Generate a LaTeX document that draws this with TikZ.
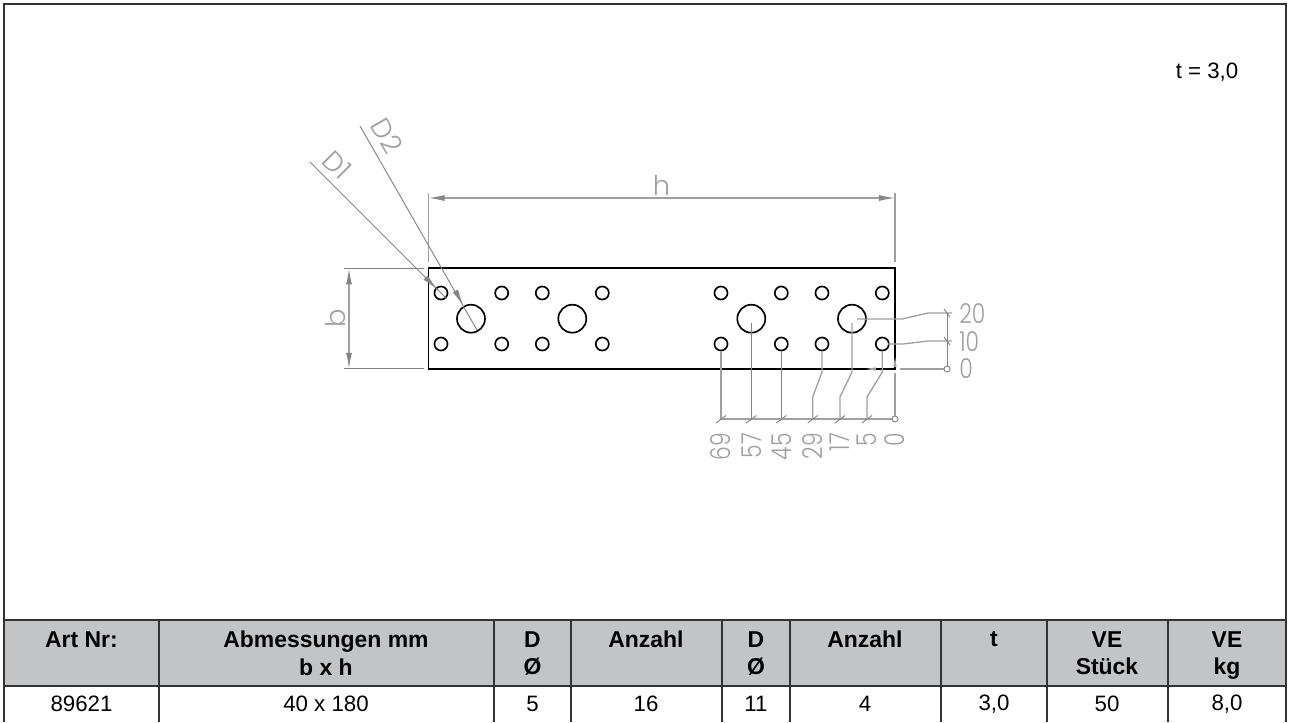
\documentclass[tikz,border=0pt]{standalone}
\usepackage{fontspec}
\setmainfont{Liberation Sans}
\newfontfamily\dimfont[FakeStretch=0.8]{Poppins Light}
\newfontfamily\dimletter[FakeStretch=1.0]{Poppins Light}
\usetikzlibrary{arrows.meta}
\definecolor{dimgray}{HTML}{A0A0A0}
\definecolor{leadgray}{HTML}{858585}
\definecolor{headgray}{HTML}{C3C4C6}
\definecolor{framec}{HTML}{333333}
\tikzset{
  x=0.75pt,y=-0.75pt,
  partline/.style={draw=black,line width=1.25pt},
  hole/.style={partline},
  dimline/.style={draw=dimgray,line width=1pt},
  thinlead/.style={draw=leadgray,line width=0.7pt},
  dimlabel/.style={text=dimgray,font=\dimfont\fontsize{20.5}{20.5}\selectfont,inner sep=0pt},
  letterlabel/.style={text=dimgray,font=\dimletter\fontsize{20.5}{20.5}\selectfont,inner sep=0pt},
  cellhead/.style={font=\fontsize{17.2}{20.5}\selectfont\bfseries,align=center,anchor=north,inner sep=0pt},
  cellbody/.style={font=\fontsize{16.7}{21}\selectfont,anchor=center,inner sep=0pt},
  rule/.style={draw=framec,line width=1.1pt}
}
\begin{document}
\begin{tikzpicture}
\useasboundingbox (0,0) rectangle (1290,722);
\fill[white] (0,0) rectangle (1290,722);
% table
\fill[headgray] (4,620) rectangle (1286,686);
\draw[rule] (4,722) -- (4,4) -- (1286,4) -- (1286,722);
\draw[rule] (4,620) -- (1286,620);
\draw[rule] (4,686) -- (1286,686);
\foreach \x in {159,494,571,790,941,1047,1168} \draw[rule] (\x,620) -- (\x,722);
\draw[rule,line width=1.7pt] (722,620) -- (722,722);
\node[name=tval,font=\fontsize{16.7}{21}\selectfont,inner sep=0pt] at (1207,72) {t = 3,0};
% header
\node[cellhead,name=h1] at (81.5,631) {Art Nr:};
\node[cellhead,name=h2] at (326,631) {Abmessungen mm\\b x h};
\node[cellhead,name=h3] at (532.5,631) {D\\Ø};
\node[cellhead,name=h4] at (646,631) {Anzahl};
\node[cellhead,name=h5] at (756,631) {D\\Ø};
\node[cellhead,name=h6] at (865,631) {Anzahl};
\node[cellhead,name=h7] at (994,631) {t};
\node[cellhead,name=h8] at (1107,631) {VE\\Stück};
\node[cellhead,name=h9] at (1227,631) {VE\\kg};
\node[cellbody,name=c1] at (81.5,704) {89621};
\node[cellbody,name=c2] at (326,704) {40 x 180};
\node[cellbody,name=c3] at (532.5,704) {5};
\node[cellbody,name=c4] at (646,704) {16};
\node[cellbody,name=c5] at (756,704) {11};
\node[cellbody,name=c6] at (865,704) {4};
\node[cellbody,name=c7] at (994,704) {3,0};
\node[cellbody,name=c8] at (1107,704) {50};
\node[cellbody,name=c9] at (1227,704) {8,0};
% part
\coordinate (NW) at (428.5,268.3);
\coordinate (SE) at (895,368.8);
\draw[dimline] (428.5,193) -- (428.5,262);
\draw[dimline] (895,193) -- (895,262);
\draw[dimline,{Latex[length=12pt,width=4.5pt,color=leadgray]}-{Latex[length=12pt,width=4.5pt,color=leadgray]}] (428.5,198) -- (895,198);
\node[letterlabel,name=hlab] at (661.5,185) {h};
\draw[thinlead] (344,268.3) -- (424,268.3);
\draw[thinlead] (344,368.8) -- (424,368.8);
\draw[dimline,{Latex[length=12pt,width=4.5pt,color=leadgray]}-{Latex[length=12pt,width=4.5pt,color=leadgray]}] (349,268.3) -- (349,368.8);
\node[letterlabel,rotate=90,name=blab] at (335,318) {b};
\draw[partline,line join=miter] (NW) rectangle (SE);
\foreach \n/\x in {a/441,b/501.7,c/542.3,d/602.3,e/721,f/781.3,g/822,k/882.3}{
  \node[hole,circle,minimum size=9.8pt,inner sep=0pt,name=\n1] at (\x,293) {};
  \node[hole,circle,minimum size=9.8pt,inner sep=0pt,name=\n2] at (\x,344) {};
}
\foreach \n/\x in {L1/471,L2/572.3,L3/751.3,L4/852}
  \node[hole,circle,minimum size=21pt,inner sep=0pt,name=\n] at (\x,318.7) {};
% diameter leaders
\coordinate (D1s) at (310,162);
\coordinate (D2s) at (360,126);
\draw[thinlead] (D1s) -- (446,298);
\draw[thinlead] (D2s) -- (477,330);
\draw[thinlead,{Latex[length=12pt,width=4.5pt,color=leadgray]}-] (437,289) -- (425,277);
\draw[thinlead,{Latex[length=12pt,width=4.5pt,color=leadgray]}-] (463,305) -- (456,292);
\node[letterlabel,rotate=-45,name=D1lab] at (337,165) {D1};
\node[letterlabel,rotate=-60,name=D2lab] at (387,136) {D2};
% right ordinates
\coordinate (O0) at (947,369);
\coordinate (O10) at (947,341);
\coordinate (O20) at (947,313);
\draw[dimline] (857,319) -- (902,319) -- (928,313) -- (952,313);
\draw[dimline] (888,344) -- (903,344) -- (928,341) -- (952,341);
\draw[thinlead] (O20) -- (O0);
\draw[dimline] (900,369) -- (O0);
\draw[thinlead,fill=white] (O0) circle (3);
\foreach \y in {313,341} \draw[thinlead] (944,\y-4) -- (950,\y+4);
\node[dimlabel,anchor=west,name=r20] at (959,314) {20};
\node[dimlabel,anchor=west,name=r10] at (959,342) {10};
\node[dimlabel,anchor=west,name=r0] at (959,369) {0};
\fill[dimgray] (866,369) -- (876,367.3) -- (876,370.7) -- cycle;
\fill[dimgray] (895,357) -- (893.3,367) -- (896.7,367) -- cycle;
% bottom ordinates
\coordinate (B0) at (895,419);
\draw[dimline] (721,351) -- (721,419);
\draw[thinlead] (751.3,323) -- (751.3,419);
\draw[thinlead] (781.3,351) -- (781.3,419);
\draw[dimline] (822,351) -- (822,372) -- (812.7,397) -- (812.7,419);
\draw[dimline] (852,323) -- (852,372) -- (840,397) -- (840,419);
\draw[dimline] (882.3,351) -- (882.3,372) -- (867,397) -- (867,419);
\draw[dimline] (895,373) -- (B0);
\draw[dimline] (721,419) -- (B0);
\draw[thinlead,fill=white] (B0) circle (3);
\foreach \x in {721,751.3,781.3,812.7,840,867} \draw[thinlead] (\x-5,423) -- (\x+5,415.5);
\foreach \x/\t in {721/69,751.3/57,781.3/45,812.7/29,840/17,867/5,895/0}
  \node[dimlabel,rotate=90,anchor=east,name=bot\t] at (\x,433) {\t};
\end{tikzpicture}
\end{document}
